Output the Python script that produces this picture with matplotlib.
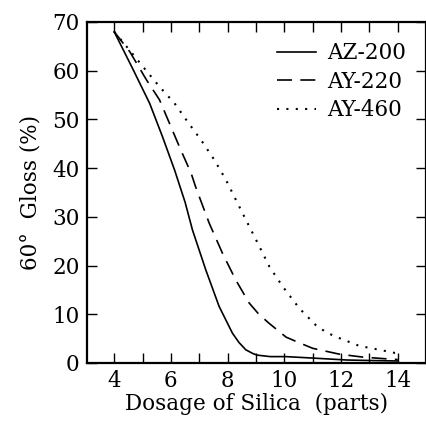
import matplotlib
matplotlib.use("Agg")
import matplotlib.pyplot as plt

plt.rcParams['font.family'] = 'DejaVu Serif'

# AZ-200 (solid)
az200_x = [4.0, 4.67, 5.25, 5.7, 6.13, 6.5, 6.76, 7.23, 7.7, 8.17, 8.4, 8.64, 8.9, 9.05, 9.5, 10.05, 11.0, 12.2, 13.0, 14.0]
az200_y = [68, 60.2, 53.3, 46.5, 39.6, 33.0, 27.3, 19.1, 11.6, 6.1, 4.2, 2.7, 1.9, 1.6, 1.3, 1.3, 1.0, 0.6, 0.5, 0.4]

# AY-220 (dashed)
ay220_x = [4.0, 4.55, 5.14, 5.6, 6.0, 6.35, 6.71, 6.88, 7.35, 7.82, 8.29, 8.76, 9.1, 9.47, 10.06, 10.5, 11.0, 11.94, 12.76, 13.7, 14.0]
ay220_y = [68, 63.9, 58.1, 54, 48.5, 43.7, 39.0, 36.0, 28.7, 22.5, 17.0, 12.3, 10.0, 8.1, 5.3, 4.2, 3.0, 1.8, 1.2, 0.8, 0.7]

# AY-460 (dotted)
ay460_x = [4.0, 4.53, 5.06, 5.6, 6.13, 6.59, 7.06, 7.53, 7.94, 8.53, 9.0, 9.47, 9.94, 10.53, 11.12, 11.5, 11.94, 12.64, 13.35, 13.94]
ay460_y = [68, 64.3, 60.5, 56.7, 53.3, 49.5, 45.8, 41.7, 37.6, 30.7, 25.3, 19.8, 15.7, 11.2, 7.7, 6.2, 5.1, 3.5, 2.7, 2.0]

x_ticks = list(range(4, 15))
x_tick_labels = ['4', '', '6', '', '8', '', '10', '', '12', '', '14']
y_ticks = [0, 10, 20, 30, 40, 50, 60, 70]

fig = plt.figure(figsize=(4.27, 4.23), dpi=100)
ax = fig.add_axes([0.203, 0.142, 0.795, 0.806])

ax.plot(az200_x, az200_y, color='black', lw=1.2, label='AZ-200')
ax.plot(ay220_x, ay220_y, color='black', lw=1.2, dashes=(9, 5), label='AY-220')
ax.plot(ay460_x, ay460_y, color='black', lw=1.5, dashes=(1, 3.5), label='AY-460')

ax.set_xlim(3.03, 15)
ax.set_ylim(0, 70)
ax.set_xticks(x_ticks)
ax.set_xticklabels(x_tick_labels)
ax.set_yticks(y_ticks)
ax.tick_params(direction='in', length=7, width=1, top=True, right=True,
               labelsize=15.5, pad=5)

for s in ax.spines.values():
    s.set_linewidth(1.6)

ax.set_xlabel('Dosage of Silica  (parts)', fontsize=15.5, labelpad=1)
ax.set_ylabel('60°  Gloss (%)', fontsize=15.5, labelpad=8)

ax.legend(loc='upper right', frameon=False, fontsize=15.5, handlelength=1.85,
          handletextpad=0.5, labelspacing=0.3, borderaxespad=0.3,
          bbox_to_anchor=(0.985, 0.985))

fig.savefig('out.png', dpi=100)
